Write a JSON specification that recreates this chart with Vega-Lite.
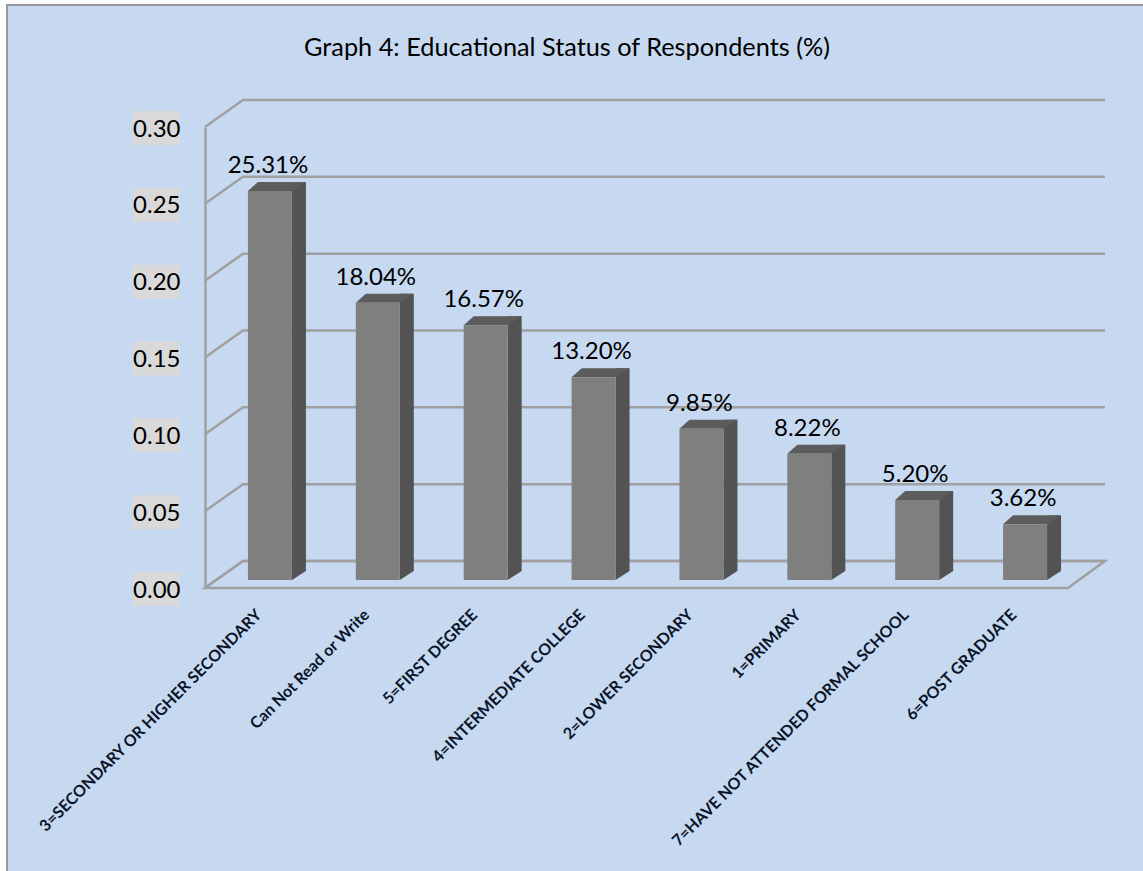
{
  "$schema": "https://vega.github.io/schema/vega-lite/v6.json",
  "autosize": "none",
  "width": 1140,
  "height": 870,
  "padding": {"left": 7, "top": 5, "right": 0, "bottom": 0},
  "background": "#FFFFFF",
  "view": {"fill": "#C6D9F1", "stroke": "#999999", "strokeWidth": 2},
  "title": {
    "text": "Graph 4: Educational Status of Respondents (%)",
    "font": "Lato",
    "fontSize": 25.3,
    "fontWeight": "normal",
    "color": "#000000",
    "anchor": "middle",
    "frame": "group",
    "baseline": "middle",
    "offset": -68,
    "dx": -10
  },
  "datasets": {
    "levels": [
      {"level": "3=SECONDARY OR HIGHER SECONDARY", "share": 0.2531},
      {"level": "Can Not Read or Write", "share": 0.1804},
      {"level": "5=FIRST DEGREE", "share": 0.1657},
      {"level": "4=INTERMEDIATE COLLEGE", "share": 0.132},
      {"level": "2=LOWER SECONDARY", "share": 0.0985},
      {"level": "1=PRIMARY", "share": 0.0822},
      {"level": "7=HAVE NOT ATTENDED FORMAL SCHOOL", "share": 0.052},
      {"level": "6=POST GRADUATE", "share": 0.0362}
    ],
    "gridTicks": [
      {"tick": 0}, {"tick": 0.05}, {"tick": 0.1}, {"tick": 0.15},
      {"tick": 0.2}, {"tick": 0.25}, {"tick": 0.3}
    ]
  },
  "encoding": {
    "x": {
      "field": "level",
      "type": "nominal",
      "sort": null,
      "scale": {
        "domain": [
          "3=SECONDARY OR HIGHER SECONDARY",
          "Can Not Read or Write",
          "5=FIRST DEGREE",
          "4=INTERMEDIATE COLLEGE",
          "2=LOWER SECONDARY",
          "1=PRIMARY",
          "7=HAVE NOT ATTENDED FORMAL SCHOOL",
          "6=POST GRADUATE"
        ],
        "range": [198, 1061],
        "paddingInner": 0,
        "paddingOuter": 0
      },
      "axis": {
        "title": null,
        "orient": "bottom",
        "offset": -287,
        "domain": false,
        "ticks": false,
        "labelAngle": -45,
        "labelAlign": "right",
        "labelBaseline": "middle",
        "labelPadding": 24,
        "labelFont": "Lato",
        "labelFontSize": 16,
        "labelFontWeight": "bold",
        "labelColor": "#0A1428",
        "labelLimit": 500,
        "labelOverlap": false,
        "zindex": 1
      }
    },
    "y": {
      "type": "quantitative",
      "scale": {"domain": [0, 0.3], "range": [583, 122], "nice": false},
      "axis": {
        "title": null,
        "orient": "left",
        "offset": -198,
        "values": [0, 0.05, 0.1, 0.15, 0.2, 0.25, 0.3],
        "format": ".2f",
        "grid": false,
        "ticks": false,
        "domain": true,
        "domainColor": "#A0A0A0",
        "domainWidth": 2.5,
        "labelPadding": 25,
        "labelOffset": 2,
        "labelFont": "Lato",
        "labelFontSize": 24,
        "labelColor": "#000000",
        "labelFlush": false,
        "zindex": 1
      }
    }
  },
  "layer": [
    {
      "description": "Shaded chips behind the value-axis labels",
      "data": {"name": "gridTicks"},
      "mark": {"type": "point", "filled": true, "opacity": 1, "size": 4, "color": "#D9D9D9",
               "shape": "M-126,-16 L-79,-16 L-79,18 L-126,18 Z"},
      "encoding": {
        "x": {"datum": "3=SECONDARY OR HIGHER SECONDARY"},
        "y": {"field": "tick"}
      }
    },
    {
      "description": "Back-wall gridlines with their slanted side-wall returns",
      "data": {"name": "gridTicks"},
      "mark": {"type": "point", "filled": false, "opacity": 1, "size": 4, "stroke": "#A0A0A0", "strokeWidth": 2.5,
               "shape": "M-54,0 L-16,-27 L846,-27"},
      "encoding": {
        "x": {"datum": "3=SECONDARY OR HIGHER SECONDARY"},
        "y": {"field": "tick"}
      }
    },
    {
      "description": "Floor outline",
      "data": {"values": [{"tick": 0}]},
      "mark": {"type": "point", "filled": false, "opacity": 1, "size": 4, "stroke": "#A0A0A0", "strokeWidth": 2.5,
               "shape": "M-54,0 L-16,-27 L846,-27 L809,0 Z"},
      "encoding": {
        "x": {"datum": "3=SECONDARY OR HIGHER SECONDARY"},
        "y": {"field": "tick"}
      }
    },
    {
      "description": "Right-hand face of each column",
      "data": {"name": "levels"},
      "mark": {"type": "bar", "size": 14, "color": "#535353", "xOffset": 40, "yOffset": -17, "y2Offset": -17},
      "encoding": {"y": {"field": "share"}, "y2": {"datum": 0}}
    },
    {
      "description": "Slanted foot of the right-hand face",
      "data": {"name": "levels"},
      "mark": {"type": "point", "filled": true, "opacity": 1, "size": 4, "color": "#535353", "xOffset": 11, "yOffset": -8,
               "shape": "M22,0 L36,-9 L22,-9 Z"},
      "encoding": {"y": {"datum": 0}}
    },
    {
      "description": "Top face of each column",
      "data": {"name": "levels"},
      "mark": {"type": "point", "filled": true, "opacity": 1, "size": 4, "color": "#5C5C5C", "xOffset": 11, "yOffset": -8,
               "shape": "M-22,0 L-12,-9 L36,-9 L22,0 Z"},
      "encoding": {"y": {"field": "share"}}
    },
    {
      "description": "Front face of each column",
      "data": {"name": "levels"},
      "mark": {"type": "bar", "size": 44, "color": "#7F7F7F", "xOffset": 11, "yOffset": -8, "y2Offset": -8},
      "encoding": {"y": {"field": "share"}, "y2": {"datum": 0}}
    },
    {
      "description": "Percentage above each column",
      "data": {"name": "levels"},
      "mark": {"type": "text", "font": "Lato", "fontSize": 24, "color": "#000000", "xOffset": 9, "yOffset": -33, "baseline": "middle", "align": "center"},
      "encoding": {
        "y": {"field": "share"},
        "text": {"field": "share", "type": "quantitative", "format": ".2%"}
      }
    }
  ]
}
